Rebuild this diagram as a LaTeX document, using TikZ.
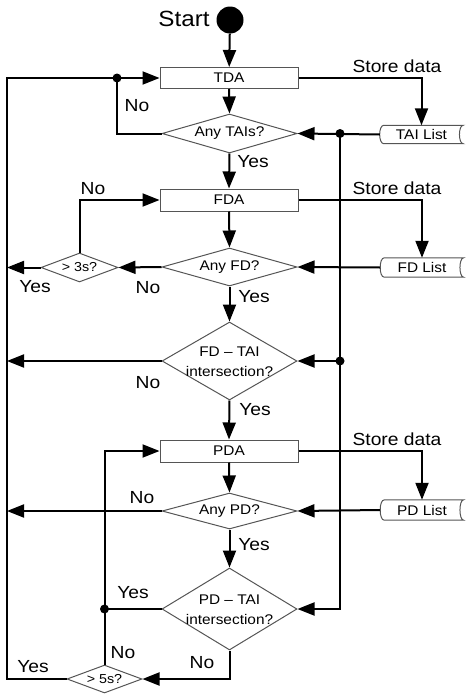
\documentclass[tikz,border=0pt]{standalone}
\usepackage{fontspec}
\setmainfont{Liberation Sans}[FakeStretch=1.1]
\usetikzlibrary{arrows.meta,shapes.geometric,calc}
\definecolor{bord}{HTML}{555555}
\newcommand{\dstore}[1]{\draw[bord,line width=1pt] ([xshift=4pt]#1.north west) -- (#1.north east) .. controls ([xshift=-5pt]#1.north east) and ([xshift=-5pt]#1.south east) .. (#1.south east) -- ([xshift=4pt]#1.south west) .. controls ([xshift=-1.5pt]#1.south west) and ([xshift=-1.5pt]#1.north west) .. ([xshift=4pt]#1.north west);}
\tikzset{
  line/.style={line width=2pt, black},
  arr/.style={line width=2pt, black, -{Triangle[length=17pt,width=13pt]}},
  proc/.style={draw=bord, line width=1pt, minimum width=138pt, minimum height=21pt, inner sep=0pt, font=\fontsize{14}{16}\selectfont},
  dec/.style={diamond, draw=bord, line width=1pt, inner sep=0pt, font=\fontsize{14}{16}\selectfont},
  ntext/.style={inner sep=0pt, align=center, font=\fontsize{14}{20}\selectfont},
  store/.style={minimum width=83pt, minimum height=18pt, inner sep=0pt, font=\fontsize{14}{16}\selectfont},
  lbl/.style={inner sep=0pt, font=\fontsize{17.5}{20}\selectfont},
  jdot/.style={circle, fill, minimum size=9pt, inner sep=0pt}
}
\begin{document}
\begin{tikzpicture}[x=1pt,y=1pt]
\useasboundingbox (0,0) rectangle (474,-699);
% nodes
\node[circle, fill, minimum size=27pt, inner sep=0pt] (start) at (230,-20) {};
\node[inner sep=0pt, font=\fontsize{22}{24}\selectfont] (starttxt) at (184,-19) {Start};
\node[proc] (tda) at (229,-78) {TDA};
\node[dec, minimum width=135pt, minimum height=39pt, aspect=3.46] (tais) at (229.5,-133.5) {Any TAIs?};
\node[store] (tailist) at (421.5,-134.5) {TAI List};
\node[proc, minimum height=22pt] (fda) at (229,-200) {FDA};
\node[dec, minimum width=135pt, minimum height=38pt, aspect=3.55] (anyfd) at (229.5,-267) {Any FD?};
\node[dec, minimum width=77pt, minimum height=29pt, aspect=2.65, font=\fontsize{13}{15}\selectfont] (gt3) at (79.5,-267.5) {> 3s?};
\node[store, minimum height=19pt] (fdlist) at (422,-267.5) {FD List};
\node[dec, minimum width=135pt, minimum height=78pt, aspect=1.73] (fdtai) at (229.5,-361) {};
\node[ntext] (fdtaitxt) at (229.5,-362) {FD -- TAI\\intersection?};
\node[proc, minimum height=22pt] (pda) at (229,-451) {PDA};
\node[dec, minimum width=135pt, minimum height=36pt, aspect=3.75] (anypd) at (229.5,-511) {Any PD?};
\node[store, minimum height=20pt] (pdlist) at (422,-510) {PD List};
\node[dec, minimum width=135pt, minimum height=82pt, aspect=1.65] (pdtai) at (229.5,-609) {};
\node[ntext] (pdtaitxt) at (229.5,-610) {PD -- TAI\\intersection?};
\node[dec, minimum width=75pt, minimum height=28pt, aspect=2.68, font=\fontsize{13}{15}\selectfont] (gt5) at (104.5,-679) {> 5s?};
\dstore{tailist}
\dstore{fdlist}
\dstore{pdlist}
% coordinates and junctions
\coordinate (rail) at (7,0);
\coordinate (railtop) at (7,-78);
\node[jdot] (d1) at (117,-78) {};
\node[jdot] (d2) at (340,-133.5) {};
\node[jdot] (d3) at (340,-361) {};
\node[jdot] (d4) at (104.5,-609) {};
% connectors
\draw[arr] (start) -- (tda);
\draw[line] (gt5.west) -| (railtop) -- (d1.center);
\draw[arr] (d1.center) -- (tda.west);
\draw[line] (tais.west) -| (d1.center);
\draw[arr] (tda.south) -- (tais.north);
\draw[arr] (tda.east) -| (tailist.north);
\draw[arr] (tailist.west) -- (tais.east);
\draw[arr] (d2.center) |- (pdtai.east);
\draw[arr] (d3.center) -- (fdtai.east);
\draw[arr] (tais.south) -- (fda.north);
\draw[arr] (fda.south) -- (anyfd.north);
\draw[arr] (fda.east) -| (fdlist.north);
\draw[arr] (fdlist.west) -- (anyfd.east);
\draw[arr] (anyfd.west) -- (gt3.east);
\draw[arr] (gt3.west) -- (rail |- gt3.west);
\draw[arr] (gt3.north) |- (fda.west);
\draw[arr] (anyfd.south) -- (fdtai.north);
\draw[arr] (fdtai.west) -- (rail |- fdtai.west);
\draw[arr] (fdtai.south) -- (pda.north);
\draw[arr] (pda.east) -| (pdlist.north);
\draw[arr] (pdlist.west) -- (anypd.east);
\draw[arr] (pda.south) -- (anypd.north);
\draw[arr] (anypd.west) -- (rail |- anypd.west);
\draw[arr] (anypd.south) -- (pdtai.north);
\draw[line] (pdtai.west) -- (d4.center);
\draw[arr] (gt5.north) |- (pda.west);
\draw[arr] (pdtai.south) |- (gt5.east);
% labels
\node[lbl] (lno1) at (137,-106) {No};
\node[lbl] (lsd1) at (397,-66) {Store data};
\node[lbl] (lyes1) at (253,-162) {Yes};
\node[lbl] (lno2) at (93,-189) {No};
\node[lbl] (lsd2) at (397,-188) {Store data};
\node[lbl] (lyes2) at (35,-287) {Yes};
\node[lbl] (lno3) at (148,-288) {No};
\node[lbl] (lyes3) at (254,-297) {Yes};
\node[lbl] (lno4) at (148,-383) {No};
\node[lbl] (lyes4) at (255,-410) {Yes};
\node[lbl] (lsd3) at (397,-439) {Store data};
\node[lbl] (lno5) at (142,-498) {No};
\node[lbl] (lyes5) at (254,-545) {Yes};
\node[lbl] (lyes6) at (133,-593) {Yes};
\node[lbl] (lno6) at (123,-653) {No};
\node[lbl] (lno7) at (202,-663) {No};
\node[lbl] (lyes7) at (33,-667) {Yes};
\end{tikzpicture}
\end{document}
